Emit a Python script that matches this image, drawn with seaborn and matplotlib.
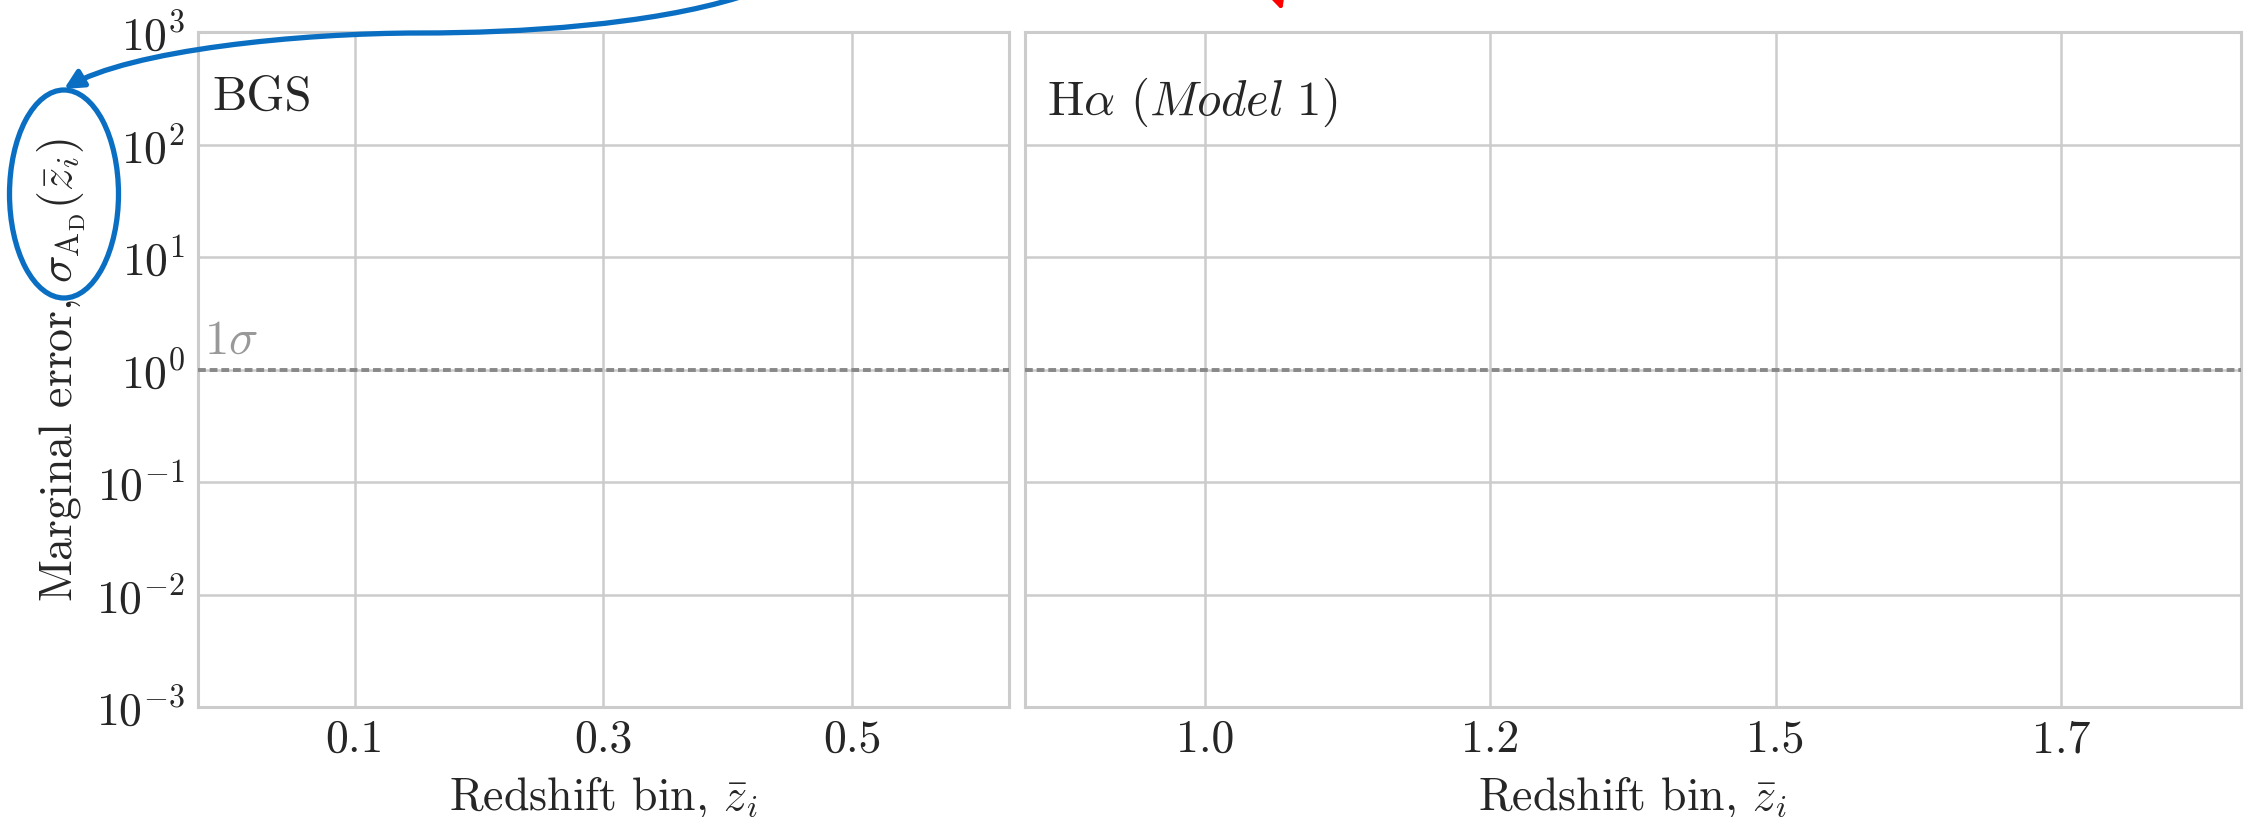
import numpy as np
import matplotlib
matplotlib.use("Agg")
import matplotlib.pyplot as plt
import seaborn as sns
from matplotlib.patches import FancyArrowPatch, Ellipse
from matplotlib.path import Path

# ---- data ----
bgs_bins = [0.1, 0.3, 0.5]
ha_bins = [1.0, 1.2, 1.5, 1.7]
bgs_labels = ["0.1", "0.3", "0.5"]
ha_labels = ["1.0", "1.2", "1.5", "1.7"]
panel_titles = ["BGS", r"H$\alpha$ ($\mathit{Model\ 1}$)"]
one_sigma = 1.0
ylim = (1e-3, 1e3)

sns.set_theme(style="whitegrid")
plt.rcParams["font.family"] = ["cmr10"]
plt.rcParams["mathtext.fontset"] = "cm"
plt.rcParams["axes.formatter.use_mathtext"] = True
plt.rcParams["axes.unicode_minus"] = False

W, H = 2249, 817
fig = plt.figure(figsize=(W / 100, H / 100), dpi=100)
gs = fig.add_gridspec(1, 2, width_ratios=[811, 1216], left=198 / W, right=2241 / W,
                      bottom=1 - 707 / H, top=1 - 32 / H, wspace=0.0158)
ax1 = fig.add_subplot(gs[0])
ax2 = fig.add_subplot(gs[1], sharey=ax1)

FS = 33
for ax, bins, labels, title in [(ax1, bgs_bins, bgs_labels, panel_titles[0]),
                                (ax2, ha_bins, ha_labels, panel_titles[1])]:
    pos = np.arange(len(bins))
    ax.set_yscale("log")
    ax.set_ylim(*ylim)
    ax.set_xlim(-0.63, len(bins) - 1 + 0.63)
    ax.set_xticks(pos)
    ax.set_xticklabels(labels)
    ax.yaxis.set_minor_locator(matplotlib.ticker.NullLocator())
    ax.tick_params(axis="both", labelsize=FS, pad=9, length=0, colors="#262626")
    ax.grid(True, color="#cccccc", lw=1.8)
    for s in ax.spines.values():
        s.set_color("#cccccc")
        s.set_linewidth(2.2)
    ax.axhline(one_sigma, color="#888888", lw=2.8, ls=(0, (2.0, 1.0)), zorder=3)
    ax.set_xlabel(r"Redshift bin, $\bar{z}_i$", fontsize=FS, color="#262626", labelpad=10)
    ax.text(0.018, 0.935, title, transform=ax.transAxes, fontsize=FS + 2,
            color="#262626", ha="left", va="top")

ax1.set_yticks([1e-3, 1e-2, 1e-1, 1e0, 1e1, 1e2, 1e3])
plt.setp(ax2.get_yticklabels(), visible=False)
ax1.set_ylabel(r"Marginal error, $\sigma_{\mathrm{A_D}}(\bar{z}_i)$", fontsize=FS,
               color="#262626", labelpad=6)
ax1.text(0.008, one_sigma * 1.12, r"$1\sigma$", transform=ax1.get_yaxis_transform(),
         fontsize=FS + 2, color="#999999", ha="left", va="bottom")


def fp(x, y):
    return (x / W, 1 - y / H)


blue = "#0a6fc2"
verts = [fp(740, -3), fp(650, 25), fp(520, 33), fp(420, 33),
         fp(300, 33), fp(130, 50), fp(64, 89)]
codes = [Path.MOVETO, Path.CURVE4, Path.CURVE4, Path.CURVE4,
         Path.CURVE4, Path.CURVE4, Path.CURVE4]
arr = FancyArrowPatch(path=Path(verts, codes), arrowstyle="-|>", mutation_scale=28,
                      lw=3.8, color=blue, transform=fig.transFigure)
fig.add_artist(arr)
ell = Ellipse(fp(64, 194), 109 / W, 208 / H, fill=False, lw=3.8, edgecolor=blue,
              transform=fig.transFigure)
fig.add_artist(ell)
red = FancyArrowPatch(fp(1266, -40), fp(1283, 13), arrowstyle="-|>", mutation_scale=30,
                      lw=3, color="red", transform=fig.transFigure)
fig.add_artist(red)

fig.savefig("out.png", dpi=100)
